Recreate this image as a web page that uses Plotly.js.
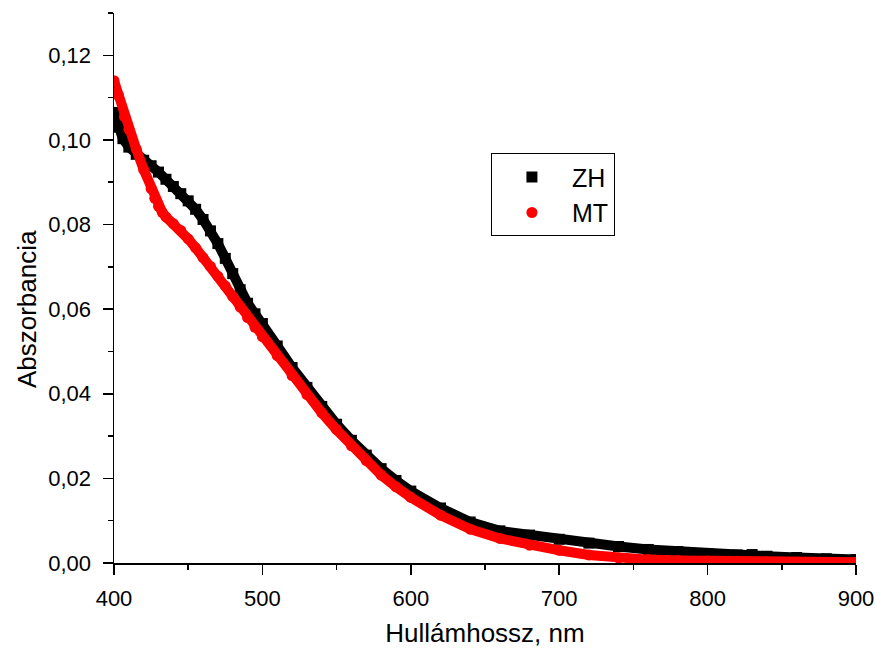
<!DOCTYPE html>
<html>
<head>
<meta charset="utf-8">
<script src="https://cdn.plot.ly/plotly-3.0.1.min.js"></script>
<style>
html,body{margin:0;padding:0;background:#fff;}
#chart{width:876px;height:648px;}
</style>
</head>
<body>
<div id="chart"></div>
<script>
// Wavelength (nm) and absorbance
const zhWavelength = [400,403,406,410,415,420,425,430,435,440,445,450,455,460,465,470,475,480,485,490,495,500,510,520,530,540,550,560,570,580,590,600,620,640,660,680,700,720,740,760,780,800,820,830,840,860,880,900];
const zhAbsorbance = [0.1065,0.1030,0.1003,0.0983,0.0966,0.0952,0.0939,0.0924,0.0907,0.0890,0.0873,0.0856,0.0836,0.0812,0.0785,0.0755,0.0720,0.0684,0.0646,0.0614,0.0589,0.0566,0.0513,0.0462,0.0415,0.0370,0.0328,0.0290,0.0255,0.0223,0.0195,0.0170,0.0130,0.0097,0.0076,0.0066,0.0056,0.0047,0.0039,0.0032,0.0027,0.0022,0.0019,0.0020,0.0016,0.0013,0.0010,0.0008];

const mtWavelength = [400,403,407,410,415,420,425,427.5,430,432.5,435,440,445,450,455,460,465,470,475,480,485,490,495,500,510,520,530,540,550,560,570,580,590,600,620,640,660,680,700,720,740,760,780,800,820,840,860,880,900];
const mtAbsorbance = [0.1140,0.1105,0.1055,0.1025,0.0978,0.0930,0.0885,0.0862,0.0843,0.0829,0.0818,0.0802,0.0786,0.0766,0.0745,0.0722,0.0701,0.0678,0.0655,0.0630,0.0605,0.0580,0.0557,0.0535,0.0490,0.0443,0.0398,0.0355,0.0315,0.0277,0.0242,0.0208,0.0180,0.0155,0.0113,0.0080,0.0058,0.0042,0.0030,0.0019,0.0012,0.0008,0.0006,0.0005,0.0004,0.0003,0.0002,0.0002,0.0002];

const seriesNames = ['ZH','MT'];
const xTitle = 'Hullámhossz, nm';
const yTitle = 'Abszorbancia';

const FONT = '"Liberation Sans", Arial, sans-serif';

const traces = [
  {x: zhWavelength, y: zhAbsorbance, mode: 'lines', line: {color: '#000000', width: 10}, showlegend: false, hoverinfo: 'skip'},
  {x: zhWavelength, y: zhAbsorbance, mode: 'markers', name: seriesNames[0], marker: {symbol: 'square', color: '#000000', size: 11}},
  {x: mtWavelength, y: mtAbsorbance, mode: 'lines', line: {color: '#ff0000', width: 10}, showlegend: false, hoverinfo: 'skip'},
  {x: mtWavelength, y: mtAbsorbance, mode: 'markers', name: seriesNames[1], marker: {symbol: 'circle', color: '#ff0000', size: 11}}
];

const layout = {
  width: 876, height: 648,
  margin: {l: 114, r: 20, t: 13, b: 85},
  paper_bgcolor: '#ffffff', plot_bgcolor: '#ffffff',
  separators: ', ',
  font: {family: FONT, color: '#000000', size: 22},
  showlegend: true,
  legend: {
    x: 0.508, y: 0.745, xanchor: 'left', yanchor: 'top',
    bordercolor: '#000000', borderwidth: 1, bgcolor: '#ffffff',
    font: {family: FONT, size: 25, color: '#000000'},
    itemwidth: 70
  },
  xaxis: {
    range: [400, 900], tick0: 400, dtick: 100,
    showgrid: false, zeroline: false,
    showline: true, linecolor: '#000000', linewidth: 1.5,
    ticks: 'outside', ticklen: 10, tickwidth: 1.5, tickcolor: '#000000',
    ticklabelstandoff: 5,
    minor: {ticks: 'outside', ticklen: 5, tickwidth: 1.5, tickcolor: '#000000', dtick: 50, showgrid: false},
    tickfont: {family: FONT, size: 22},
    title: {text: xTitle, font: {family: FONT, size: 26}, standoff: 15}
  },
  yaxis: {
    range: [0, 0.13], tick0: 0, dtick: 0.02, tickformat: '.2f',
    showgrid: false, zeroline: false,
    showline: true, linecolor: '#000000', linewidth: 1.5,
    ticks: 'outside', ticklen: 10, tickwidth: 1.5, tickcolor: '#000000',
    ticklabelstandoff: 7,
    minor: {ticks: 'outside', ticklen: 5, tickwidth: 1.5, tickcolor: '#000000', dtick: 0.01, showgrid: false},
    tickfont: {family: FONT, size: 22}
  },
  annotations: [{
    text: yTitle, textangle: -90, showarrow: false,
    xref: 'paper', yref: 'paper', x: -0.117, y: 0.462,
    xanchor: 'center', yanchor: 'middle',
    font: {family: FONT, size: 26, color: '#000000'}
  }]
};

Plotly.newPlot('chart', traces, layout, {displayModeBar: false, staticPlot: true});
</script>
</body>
</html>
